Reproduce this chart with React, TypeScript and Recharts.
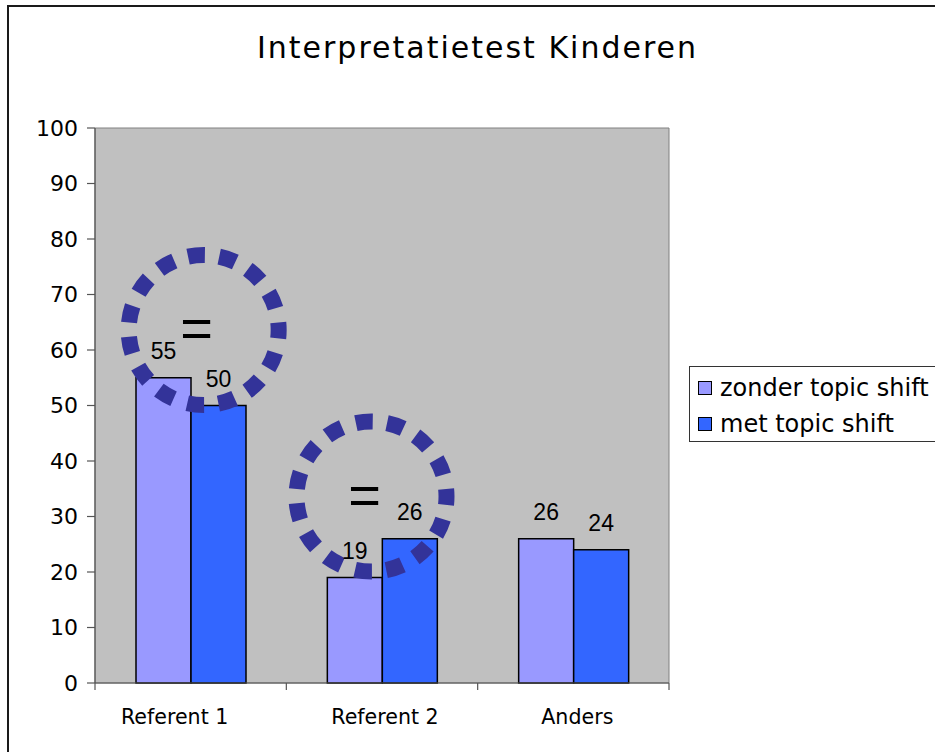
import React from 'react';
import { BarChart, Bar, XAxis, YAxis, ReferenceArea, ReferenceDot, LabelList } from 'recharts';

const categories = ['Referent 1', 'Referent 2', 'Anders'];
const zonderTopicShift = [55, 19, 26];
const metTopicShift = [50, 26, 24];
const seriesNames = ['zonder topic shift', 'met topic shift'];
const yTicks = [0, 10, 20, 30, 40, 50, 60, 70, 80, 90, 100];
const chartTitle = 'Interpretatietest Kinderen';
// "=" annotations (dotted circles) around pairs judged equal
const markedCategories = ['Referent 1', 'Referent 2'];
const markedLevels = [63.6, 33.6];

const data = categories.map((name, i) => ({
  name,
  zonder: zonderTopicShift[i],
  met: metTopicShift[i],
}));

const W = 935;
const H = 752;
const M = { top: 128, right: 266, bottom: 0, left: 0 };
const Y_AXIS_W = 95;
const X_AXIS_H = 69;
const PLOT_W = W - M.left - M.right - Y_AXIS_W;
const BAND = PLOT_W / categories.length;
const COLORS = ['#9999FF', '#3366FF'];
const LABEL_DX = [-16, 3, 4];
const CIRCLE_DX = [13, -10.5];

const XTick = (props: any) => {
  const { x, y, payload, index } = props;
  const half = BAND / 2;
  return (
    <g>
      <line x1={x - half} x2={x - half} y1={y} y2={y + 7} stroke="#555" strokeWidth={1.2} />
      {index === categories.length - 1 && (
        <line x1={x + half} x2={x + half} y1={y} y2={y + 7} stroke="#555" strokeWidth={1.2} />
      )}
      <text
        x={x + LABEL_DX[index]}
        y={y + 41}
        textAnchor="middle"
        fill="#000"
        fontSize={20.6}
        fontFamily="DejaVu Sans"
      >
        {payload.value}
      </text>
    </g>
  );
};

const makeCircle = (i: number) => (p: any) => {
  const cx = p.cx + CIRCLE_DX[i];
  const cy = p.cy;
  return (
    <g>
      <circle
        cx={cx}
        cy={cy}
        r={75}
        fill="none"
        stroke="#333399"
        strokeWidth={16}
        strokeDasharray="17 14.42"
        strokeDashoffset={8.5}
      />
      <text
        x={cx - 7}
        y={cy + 17}
        textAnchor="middle"
        fontSize={56}
        fontFamily="Liberation Sans"
        fill="#000"
      >
        =
      </text>
    </g>
  );
};

export default function App() {
  return (
    <div style={{ position: 'fixed', left: 0, top: 0, width: W, height: H, overflow: 'hidden', background: '#fff' }}>
      <div
        style={{
          position: 'absolute',
          left: 7,
          top: 5,
          width: 1000,
          height: 1000,
          border: '2px solid #1a1a1a',
          boxSizing: 'border-box',
        }}
      />
      <div
        style={{
          position: 'absolute',
          left: 10,
          top: 33,
          width: W,
          textAlign: 'center',
          fontFamily: 'DejaVu Sans',
          fontSize: 30,
          lineHeight: '30px',
          letterSpacing: 2,
          color: '#000',
        }}
      >
        {chartTitle}
      </div>
      <div style={{ position: 'absolute', left: 0, top: 0 }}>
        <BarChart width={W} height={H} data={data} margin={M} barCategoryGap={41} barGap={0}>
          <ReferenceArea y1={0} y2={100} fill="#C0C0C0" fillOpacity={1} stroke="#808080" strokeWidth={1} />
          <XAxis
            dataKey="name"
            height={X_AXIS_H}
            tickLine={false}
            tickSize={0}
            tickMargin={0}
            axisLine={{ stroke: '#555', strokeWidth: 1.2 }}
            tick={<XTick />}
            interval={0}
          />
          <YAxis
            width={Y_AXIS_W}
            domain={[0, 100]}
            ticks={yTicks}
            interval={0}
            tickSize={8}
            tickMargin={9}
            axisLine={{ stroke: '#555', strokeWidth: 1.2 }}
            tickLine={{ stroke: '#555', strokeWidth: 1.2 }}
            tick={{ fill: '#000', fontSize: 22, fontFamily: 'DejaVu Sans' }}
          />
          <Bar dataKey="zonder" name={seriesNames[0]} fill={COLORS[0]} stroke="#000" strokeWidth={1.5} isAnimationActive={false}>
            <LabelList dataKey="zonder" position="top" offset={19} fill="#000" fontSize={23} fontFamily="Liberation Sans" />
          </Bar>
          <Bar dataKey="met" name={seriesNames[1]} fill={COLORS[1]} stroke="#000" strokeWidth={1.5} isAnimationActive={false}>
            <LabelList dataKey="met" position="top" offset={19} fill="#000" fontSize={23} fontFamily="Liberation Sans" />
          </Bar>
          {markedCategories.map((c, i) => (
            <ReferenceDot key={c} x={c} y={markedLevels[i]} r={75} shape={makeCircle(i)} />
          ))}
        </BarChart>
      </div>
      <div
        style={{
          position: 'absolute',
          left: 689,
          top: 366,
          width: 270,
          height: 76,
          border: '1px solid #333',
          boxSizing: 'border-box',
          background: '#fff',
          paddingTop: 3,
          paddingLeft: 8,
          fontFamily: 'DejaVu Sans',
          fontSize: 24,
          color: '#000',
        }}
      >
        {seriesNames.map((n, i) => (
          <div key={n} style={{ display: 'flex', alignItems: 'center', height: 36, whiteSpace: 'nowrap' }}>
            <span
              style={{
                display: 'inline-block',
                width: 14,
                height: 14,
                boxSizing: 'border-box',
                border: '1px solid #000',
                background: COLORS[i],
                marginRight: 8,
              }}
            />
            {n}
          </div>
        ))}
      </div>
    </div>
  );
}
